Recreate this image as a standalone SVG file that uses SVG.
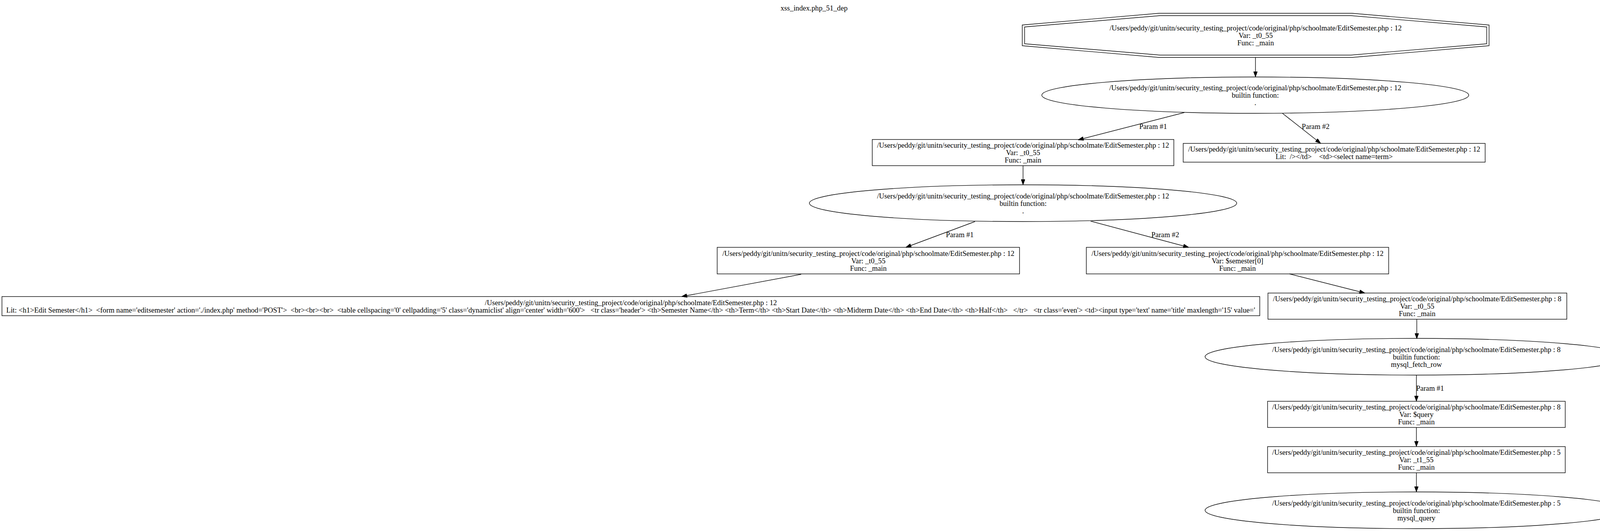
<svg xmlns="http://www.w3.org/2000/svg" width="4166" height="1359" viewBox="0 0 4166 1359">
<style>
text { font-family: "Liberation Serif", "Times New Roman", serif; font-size: 18.67px; fill: #000; text-anchor: middle; }
.shape { fill: none; stroke: #000; stroke-width: 1.4; }
.edge { fill: none; stroke: #000; stroke-width: 1.4; marker-end: url(#arrow); }
</style>
<defs>
<marker id="arrow" markerUnits="userSpaceOnUse" markerWidth="14" markerHeight="10" refX="14" refY="5" orient="auto" viewBox="0 0 14 10">
<path d="M0,0 L14,5 L0,10 Z" fill="#000" stroke="#000" stroke-width="1"/>
</marker>
</defs>
<rect width="4166" height="1359" fill="#fff"/>
<text x="2084" y="27">xss_index.php_51_dep</text>

<g id="connectors">
<path class="edge" d="M3214,147 L3214,197"/>
<path class="edge" d="M3032,288 L2760,358"/>
<text x="2952" y="330">Param #1</text>
<path class="edge" d="M3283,290 L3381,367"/>
<text x="3368" y="330">Param #2</text>
<path class="edge" d="M2619,424 L2619,473"/>
<path class="edge" d="M2496,567 L2319,633"/>
<text x="2457" y="607">Param #1</text>
<path class="edge" d="M2792,566 L3043,633"/>
<text x="2983" y="607">Param #2</text>
<path class="edge" d="M2051,702 L1745,759"/>
<path class="edge" d="M3301,701 L3494,750"/>
<path class="edge" d="M3627,817 L3627,867"/>
<path class="edge" d="M3626,960 L3626,1027"/>
<text x="3661" y="1000">Param #1</text>
<path class="edge" d="M3626,1094 L3626,1143"/>
<path class="edge" d="M3626,1210 L3626,1259"/>
</g>

<g id="node1">
<polygon class="shape" points="2967,34 3461,34 3812,64 3812,117 3461,147 2967,147 2617,117 2617,64"/>
<polygon class="shape" points="2970,40 3458,40 3806,69 3806,112 3458,141 2970,141 2623,112 2623,69"/>
<text x="3214.5" y="78">/Users/peddy/git/unitn/security_testing_project/code/original/php/schoolmate/EditSemester.php : 12</text>
<text x="3214.5" y="97">Var: _t0_55</text>
<text x="3214.5" y="116">Func: _main</text>
</g>

<g id="node2">
<ellipse class="shape" cx="3213.5" cy="243.5" rx="546.5" ry="46.5"/>
<text x="3213.5" y="231">/Users/peddy/git/unitn/security_testing_project/code/original/php/schoolmate/EditSemester.php : 12</text>
<text x="3213.5" y="250">builtin function:</text>
<text x="3213.5" y="269">.</text>
</g>

<g id="node3">
<rect class="shape" x="2233" y="357" width="772" height="67"/>
<text x="2619" y="378">/Users/peddy/git/unitn/security_testing_project/code/original/php/schoolmate/EditSemester.php : 12</text>
<text x="2619" y="397">Var: _t0_55</text>
<text x="2619" y="416">Func: _main</text>
</g>

<g id="node4">
<rect class="shape" x="3029" y="367" width="773" height="48"/>
<text x="3415.5" y="388">/Users/peddy/git/unitn/security_testing_project/code/original/php/schoolmate/EditSemester.php : 12</text>
<text x="3415.5" y="407" xml:space="preserve">Lit:  /&gt;&lt;/td&gt;    &lt;td&gt;&lt;select name=term&gt;</text>
</g>

<g id="node5">
<ellipse class="shape" cx="2619" cy="520" rx="547" ry="47"/>
<text x="2619" y="507.5">/Users/peddy/git/unitn/security_testing_project/code/original/php/schoolmate/EditSemester.php : 12</text>
<text x="2619" y="526.5">builtin function:</text>
<text x="2619" y="545.5">.</text>
</g>

<g id="node6">
<rect class="shape" x="1836" y="633" width="774" height="68"/>
<text x="2223" y="654.5">/Users/peddy/git/unitn/security_testing_project/code/original/php/schoolmate/EditSemester.php : 12</text>
<text x="2223" y="673.5">Var: _t0_55</text>
<text x="2223" y="692.5">Func: _main</text>
</g>

<g id="node7">
<rect class="shape" x="2781" y="633" width="774" height="68"/>
<text x="3168" y="654.5">/Users/peddy/git/unitn/security_testing_project/code/original/php/schoolmate/EditSemester.php : 12</text>
<text x="3168" y="673.5">Var: $semester[0]</text>
<text x="3168" y="692.5">Func: _main</text>
</g>

<g id="node8">
<rect class="shape" x="5" y="759" width="3220" height="49"/>
<text x="1615" y="780.5">/Users/peddy/git/unitn/security_testing_project/code/original/php/schoolmate/EditSemester.php : 12</text>
<text x="1614.5" y="799.5" xml:space="preserve" textLength="3197" lengthAdjust="spacing">Lit: &lt;h1&gt;Edit Semester&lt;/h1&gt;  &lt;form name='editsemester' action='./index.php' method='POST'&gt;  &lt;br&gt;&lt;br&gt;&lt;br&gt;  &lt;table cellspacing='0' cellpadding='5' class='dynamiclist' align='center' width='600'&gt;   &lt;tr class='header'&gt; &lt;th&gt;Semester Name&lt;/th&gt; &lt;th&gt;Term&lt;/th&gt; &lt;th&gt;Start Date&lt;/th&gt; &lt;th&gt;Midterm Date&lt;/th&gt; &lt;th&gt;End Date&lt;/th&gt; &lt;th&gt;Half&lt;/th&gt;   &lt;/tr&gt;   &lt;tr class='even'&gt; &lt;td&gt;&lt;input type='text' name='title' maxlength='15' value='</text>
</g>

<g id="node9">
<rect class="shape" x="3246" y="750" width="765" height="67"/>
<text x="3628" y="771">/Users/peddy/git/unitn/security_testing_project/code/original/php/schoolmate/EditSemester.php : 8</text>
<text x="3628" y="790">Var: _t0_55</text>
<text x="3628" y="809">Func: _main</text>
</g>

<g id="node10">
<ellipse class="shape" cx="3626" cy="913" rx="541" ry="47"/>
<text x="3626" y="900.5">/Users/peddy/git/unitn/security_testing_project/code/original/php/schoolmate/EditSemester.php : 8</text>
<text x="3626" y="919.5">builtin function:</text>
<text x="3626" y="938.5">mysql_fetch_row</text>
</g>

<g id="node11">
<rect class="shape" x="3245" y="1027" width="762" height="67"/>
<text x="3626" y="1048">/Users/peddy/git/unitn/security_testing_project/code/original/php/schoolmate/EditSemester.php : 8</text>
<text x="3626" y="1067">Var: $query</text>
<text x="3626" y="1086">Func: _main</text>
</g>

<g id="node12">
<rect class="shape" x="3245" y="1143" width="762" height="67"/>
<text x="3626" y="1164">/Users/peddy/git/unitn/security_testing_project/code/original/php/schoolmate/EditSemester.php : 5</text>
<text x="3626" y="1183">Var: _t1_55</text>
<text x="3626" y="1202">Func: _main</text>
</g>

<g id="node13">
<ellipse class="shape" cx="3626" cy="1306" rx="541" ry="47"/>
<text x="3626" y="1293.5">/Users/peddy/git/unitn/security_testing_project/code/original/php/schoolmate/EditSemester.php : 5</text>
<text x="3626" y="1312.5">builtin function:</text>
<text x="3626" y="1331.5">mysql_query</text>
</g>
</svg>
